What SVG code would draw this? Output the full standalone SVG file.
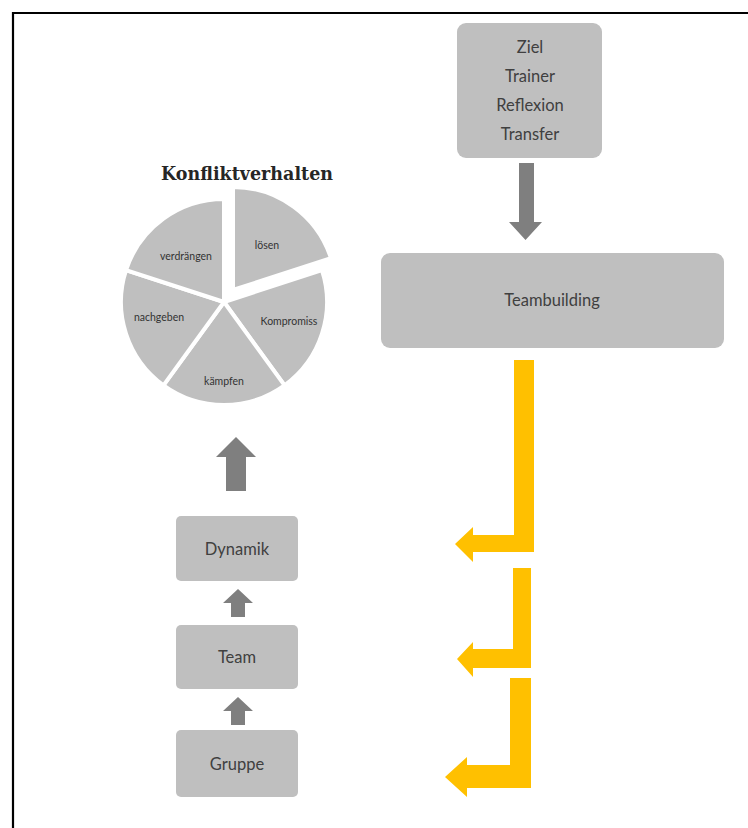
<svg xmlns="http://www.w3.org/2000/svg" width="748" height="828" viewBox="0 0 748 828">
  <style>
    .box { fill: #bfbfbf; }
    .lbl { font-family: Lato, "Open Sans", "Liberation Sans", sans-serif; fill: #404040; text-anchor: middle; }
    .big { font-size: 16.5px; }
    .small { font-size: 10.5px; fill: #333333; }
    .slice { fill: #bfbfbf; stroke: #ffffff; stroke-width: 4; stroke-linejoin: miter; }
    .garrow { fill: #7f7f7f; }
    .yarrow { fill: #ffc000; }
    .title { font-family: "DejaVu Serif", "Liberation Serif", serif; font-weight: bold; font-size: 19px; fill: #262626; text-anchor: middle; }
  </style>

  <rect width="748" height="828" fill="#ffffff"/>

  <!-- frame (top and left edges) -->
  <path d="M13 830 V13 H750" fill="none" stroke="#000000" stroke-width="2.2"/>

  <!-- factor box -->
  <g id="factors">
    <rect class="box" x="457" y="23" width="145" height="135" rx="9"/>
    <text class="lbl big" x="530" y="53">Ziel</text>
    <text class="lbl big" x="530" y="82">Trainer</text>
    <text class="lbl big" x="530" y="111">Reflexion</text>
    <text class="lbl big" x="530" y="140">Transfer</text>
  </g>

  <!-- teambuilding box -->
  <g id="teambuilding">
    <rect class="box" x="381" y="253" width="343" height="95" rx="9"/>
    <text class="lbl big" x="552" y="306">Teambuilding</text>
  </g>

  <!-- conflict behaviour pie -->
  <g id="konfliktverhalten">
    <text class="title" x="247" y="180" textLength="172" lengthAdjust="spacingAndGlyphs">Konfliktverhalten</text>
    <!-- center (224,302), r 103, five 72° slices; "lösen" pulled outward -->
    <path class="slice" transform="translate(9,-12)" d="M224 302 L224 199 A103 103 0 0 1 321.96 270.17 Z"/>
    <path class="slice" d="M224 302 L321.96 270.17 A103 103 0 0 1 284.54 385.33 Z"/>
    <path class="slice" d="M224 302 L284.54 385.33 A103 103 0 0 1 163.46 385.33 Z"/>
    <path class="slice" d="M224 302 L163.46 385.33 A103 103 0 0 1 126.04 270.17 Z"/>
    <path class="slice" d="M224 302 L126.04 270.17 A103 103 0 0 1 224 199 Z"/>
    <text class="lbl small" x="267" y="249">lösen</text>
    <text class="lbl small" x="186" y="260">verdrängen</text>
    <text class="lbl small" x="159" y="321">nachgeben</text>
    <text class="lbl small" x="289" y="325">Kompromiss</text>
    <text class="lbl small" x="224" y="385">kämpfen</text>
  </g>

  <!-- stacked stages -->
  <g id="dynamik">
    <rect class="box" x="176" y="516" width="122" height="65" rx="5"/>
    <text class="lbl big" x="237" y="555">Dynamik</text>
  </g>
  <g id="team">
    <rect class="box" x="176" y="625" width="122" height="64" rx="5"/>
    <text class="lbl big" x="237" y="663">Team</text>
  </g>
  <g id="gruppe">
    <rect class="box" x="176" y="730" width="122" height="67" rx="5"/>
    <text class="lbl big" x="237" y="770">Gruppe</text>
  </g>

  <!-- connectors -->
  <g id="connectors">
    <!-- factors down to teambuilding -->
    <path class="garrow" d="M519 163 H534 V222 H542 L525.5 240 L509 222 H519 Z"/>
    <!-- dynamik up to pie -->
    <path class="garrow" d="M226 491 V457 H216 L236 437 L256 457 H246 V491 Z"/>
    <!-- team up to dynamik -->
    <path class="garrow" d="M231 617 V603 H223 L238 589 L253 603 H245 V617 Z"/>
    <!-- gruppe up to team -->
    <path class="garrow" d="M231 725 V711 H223 L238 697 L253 711 H245 V725 Z"/>

    <!-- teambuilding feeding each stage -->
    <path class="yarrow" d="M514 360 H534 V552 H473 V562 L455 544 L473 527 V535 H514 Z"/>
    <path class="yarrow" d="M513 568 H531 V668 H473 V677 L457 659 L473 642 V649 H513 Z"/>
    <path class="yarrow" d="M510 678 H531 V788 H467 V797 L445 777 L467 757 V765 H510 Z"/>
  </g>
</svg>
